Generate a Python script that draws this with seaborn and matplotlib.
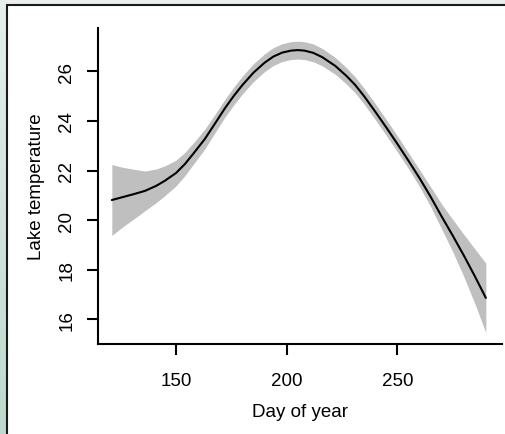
import numpy as np
import pandas as pd
import matplotlib
matplotlib.use("Agg")
import matplotlib.pyplot as plt
from matplotlib.patches import Rectangle
from matplotlib.colors import LinearSegmentedColormap
import seaborn as sns

# Smoothed lake temperature over the season (fit and half-width of the confidence band)
day = [121, 126, 131, 136, 141, 145, 150, 154, 158, 163, 168, 172, 176, 180,
       185, 190, 194, 198, 202, 205, 208, 212, 216, 222, 227, 231, 235, 240,
       245, 250, 255, 260, 265, 270, 275, 280, 285, 290]
temp_fit = [20.81, 20.93, 21.05, 21.18, 21.38, 21.59, 21.90, 22.26, 22.70, 23.27,
            23.95, 24.50, 25.00, 25.45, 25.95, 26.35, 26.60, 26.76, 26.84, 26.86,
            26.84, 26.75, 26.58, 26.22, 25.82, 25.45, 25.00, 24.38, 23.74, 23.08,
            22.40, 21.70, 20.95, 20.15, 19.38, 18.58, 17.74, 16.86]
ci_half = [1.43, 1.20, 1.00, 0.80, 0.68, 0.60, 0.52, 0.47, 0.43, 0.40,
           0.37, 0.36, 0.36, 0.36, 0.36, 0.36, 0.36, 0.36, 0.36, 0.36,
           0.36, 0.36, 0.35, 0.34, 0.33, 0.32, 0.32, 0.32, 0.32, 0.32,
           0.32, 0.34, 0.40, 0.50, 0.65, 0.85, 1.10, 1.40]
x_ticks = [150, 200, 250]
y_ticks = [16, 18, 20, 22, 24, 26]

df = pd.DataFrame({"day": day, "temp": temp_fit, "half": ci_half})
df["lower"] = df["temp"] - df["half"]
df["upper"] = df["temp"] + df["half"]

sns.set_style("ticks")
plt.rcParams["font.family"] = ["Liberation Sans", "DejaVu Sans"]

W, H = 506, 435
fig = plt.figure(figsize=(W / 100, H / 100), dpi=100, facecolor="#e8efec")

# tinted strip down the left edge
strip = fig.add_axes([0, 0, 8 / W, 1], zorder=0)
grad = np.linspace(0, 1, 256).reshape(-1, 1)
cmap = LinearSegmentedColormap.from_list("strip", ["#e6efeb", "#bcdacd"])
strip.imshow(grad, aspect="auto", cmap=cmap, extent=[0, 1, 0, 1])
strip.axis("off")

# white framed panel
panel = Rectangle((7.5 / W, -0.05), 1.1, (H - 6) / H + 0.05,
                  transform=fig.transFigure, facecolor="white",
                  edgecolor="#1a1a1a", linewidth=1.5, zorder=0.5)
fig.patches.append(panel)

ax = fig.add_axes([98.5 / W, 90 / H, (502 - 98.5) / W, (405.7 - 90) / H], zorder=2)
ax.set_facecolor("white")

ax.fill_between(df["day"], df["lower"], df["upper"], color="#bfbfbf", linewidth=0)
sns.lineplot(data=df, x="day", y="temp", color="black", linewidth=1.5, ax=ax)

ax.set_xlim(114.98, 297.3)
ax.set_ylim(15.0, 27.74)
ax.set_xticks(x_ticks)
ax.set_yticks(y_ticks)
ax.set_xticklabels([str(t) for t in x_ticks])
ax.set_yticklabels([str(t) for t in y_ticks])

for side in ("top", "right"):
    ax.spines[side].set_visible(False)
for side in ("left", "bottom"):
    ax.spines[side].set_linewidth(1.5)
    ax.spines[side].set_color("black")

ax.tick_params(axis="both", direction="out", length=8, width=1.5,
               color="black", labelsize=13.5, labelcolor="black")
ax.tick_params(axis="x", pad=12.5)
ax.tick_params(axis="y", pad=8.8)
plt.setp(ax.get_yticklabels(), rotation=90, va="center")

ax.set_xlabel("Day of year", fontsize=13.5, labelpad=9.5, color="black")
ax.set_ylabel("Lake temperature", fontsize=13.5, labelpad=9.3, color="black")

fig.savefig("out.png", dpi=100, facecolor=fig.get_facecolor())
